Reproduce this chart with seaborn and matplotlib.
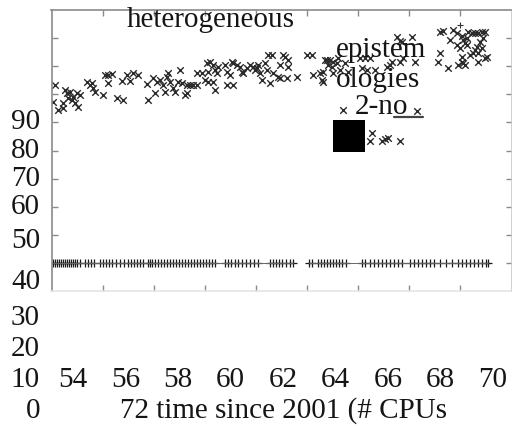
import numpy as np
import pandas as pd
import matplotlib
matplotlib.use("Agg")
import matplotlib.pyplot as plt
import seaborn as sns

# ---------------- data ----------------
cross_x = [
    52.07, 52.27, 52.46, 52.53, 52.59, 52.66, 52.72, 52.79, 52.85, 52.92, 52.99, 53.05, 53.12, 52.46, 52.14,
    53.38, 53.51, 53.57, 53.64, 53.70, 54.03, 54.09, 54.22, 54.36, 54.22, 54.75, 54.94, 55.07, 55.20, 55.40,
    54.55, 54.81, 55.79, 55.73, 55.98, 56.12, 56.25, 56.38, 56.51, 56.57, 56.64, 56.44, 56.05, 56.77, 56.83,
    57.03, 56.96, 57.10, 57.29, 57.42, 57.55, 57.68, 57.22, 57.29, 57.68,
    57.88, 58.07, 58.14, 58.20, 58.33, 58.40, 58.47, 58.53, 58.79, 58.86, 58.99, 59.05, 59.12, 59.25, 59.38,
    59.44, 59.51, 59.64, 59.77, 59.90, 59.96, 60.03, 60.09, 60.16, 60.23, 60.36, 60.42, 60.49, 60.62, 60.94,
    61.07, 61.14, 61.27, 61.27, 60.88, 60.94, 61.21, 61.60, 58.01, 58.14, 58.33, 58.40, 58.86, 59.12, 60.55,
    61.99, 62.18, 62.25, 62.51, 62.64, 62.70, 62.77, 62.90, 62.83, 62.97, 63.03, 63.16, 63.23, 62.58, 62.64,
    63.03, 63.29, 60.68, 63.60, 63.50,
    65.51, 65.64, 65.71, 66.10, 64.07, 64.27, 64.47, 64.14, 64.34, 64.66, 65.12, 65.25, 65.32, 65.64, 65.77,
    66.23, 67.20, 67.33, 67.73, 67.86, 68.06, 68.12, 68.18, 68.25, 68.31, 68.45, 68.58, 68.70, 68.84, 68.97,
    68.90, 68.77, 68.64, 68.58, 68.84, 68.70, 68.51, 68.97, 69.03, 67.99, 68.06, 68.12, 68.18, 67.92, 67.60,
    67.20, 67.14, 67.53, 68.70, 68.06, 68.38, 68.25, 67.86,
    63.39, 66.29, 64.53, 64.47, 64.92, 65.05, 65.17, 65.64,
]
cross_y = [
    97.4, 94.4, 96.8, 101.5, 100.4, 98.6, 100.9, 98.0, 99.1, 96.8, 100.4, 95.6, 99.8, 95.0, 103.3,
    104.5, 103.3, 103.9, 102.1, 100.9, 99.8, 106.9, 106.9, 107.2, 104.1, 104.8, 106.9, 104.8, 107.5, 106.9,
    98.6, 98.0, 98.0, 103.7, 105.7, 104.5, 105.1, 103.3, 106.3, 107.5, 104.5, 100.9, 100.4, 102.1, 100.9,
    108.6, 104.5, 103.9, 103.3, 103.3, 103.3, 103.3, 99.8, 100.4, 107.5,
    107.5, 111.0, 108.0, 111.6, 110.4, 108.6, 107.5, 109.8, 110.4, 108.0, 106.9, 111.6, 111.0, 110.4, 109.8,
    108.0, 107.5, 109.3, 110.4, 109.8, 108.6, 109.3, 110.4, 107.5, 105.1, 111.0, 108.6, 114.0, 114.0, 110.4,
    114.0, 113.4, 112.2, 109.8, 106.3, 105.7, 105.7, 106.0, 105.1, 104.5, 104.5, 101.5, 103.3, 103.3, 103.9,
    114.0, 114.0, 106.9, 107.5, 108.0, 112.2, 112.2, 112.2, 110.4, 109.8, 111.6, 111.0, 112.8, 105.1, 104.5,
    107.5, 108.6, 107.5, 108.0, 111.0,
    120.5, 119.0, 118.7, 120.5, 112.8, 112.8, 112.8, 109.3, 108.6, 108.6, 109.8, 110.4, 111.6, 111.6, 112.8,
    111.6, 122.3, 122.5, 122.9, 121.7, 120.9, 119.3, 118.1, 117.5, 122.3, 121.7, 121.7, 121.7, 122.1, 122.3,
    119.9, 118.7, 116.9, 115.8, 116.4, 114.6, 114.6, 112.8, 113.4, 116.4, 113.4, 111.0, 110.4, 110.4, 119.3,
    114.6, 111.6, 109.3, 111.6, 111.6, 114.0, 119.9, 117.5,
    94.4, 94.1, 86.1, 83.4, 83.4, 84.1, 84.4, 83.4,
]

top_plus_x = [67.99]
top_plus_y = [124.7]

line_x = [
    52.06, 52.14, 52.22, 52.29, 52.37, 52.45, 52.53, 52.61, 52.68, 52.76, 52.84, 52.92, 53.00, 53.12,
    53.31, 53.43, 53.55, 53.66,
    53.90, 54.02, 54.13, 54.25, 54.37, 54.52, 54.68, 54.84, 54.99, 55.11, 55.23, 55.35, 55.46, 55.58,
    55.78, 55.86, 55.93, 56.05, 56.17, 56.29, 56.40, 56.52, 56.64, 56.76, 56.87, 56.99, 57.11, 57.23,
    57.34, 57.46, 57.58, 57.69, 57.81, 57.93, 58.05, 58.16, 58.28, 58.40,
    58.79, 58.91, 59.03, 59.18, 59.30, 59.46, 59.61, 59.77, 59.93, 60.08,
    60.55, 60.67, 60.79, 60.90, 61.02, 61.18, 61.33, 61.45,
    62.08, 62.20, 62.43, 62.55, 62.67, 62.78, 62.90, 63.02, 63.14, 63.25, 63.37, 63.53,
    64.15, 64.27, 64.47, 64.62, 64.78, 64.94, 65.09, 65.25, 65.41, 65.56, 65.72,
    66.03, 66.19, 66.34, 66.50, 66.66, 66.81, 66.97,
    67.21, 67.44, 67.68, 67.91, 68.07, 68.23, 68.38, 68.54, 68.70, 68.85, 69.01, 69.09,
]
line_level = 40.0
line_break = 61.8          # the line is interrupted here

blob_x = [63.66]            # big black square
blob_y = [85.3]
underline_x = [65.40, 66.53]
underline_y = [91.9, 91.9]

xtick_vals = [54, 56, 58, 60, 62, 64, 66, 68]
ytick_vals = [40, 50, 60, 70, 80, 90, 100, 110, 120]
ytick_labels = ["90", "80", "70", "60", "50", "40", "30", "20", "10", "0"]
xtick_labels = ["54", "56", "58", "60", "62", "64", "66", "68", "70"]
xlabel_text = "72 time since 2001 (# CPUs"
notes = ["heterogeneous", "epistem", "ologies", "2-no"]

# ---------------- layout ----------------
W, H = 512, 426
sns.set_theme(style="ticks")
plt.rcParams["font.family"] = ["Liberation Serif", "DejaVu Serif"]

fig = plt.figure(figsize=(W / 100, H / 100), dpi=100)
fig.patch.set_facecolor("white")
ax_l, ax_r, ax_t, ax_b = 51.5, 511.5, 10.0, 291.0
ax = fig.add_axes([ax_l / W, 1 - ax_b / H, (ax_r - ax_l) / W, (ax_b - ax_t) / H])
ax.set_facecolor("white")

line_df = pd.DataFrame({"x": line_x, "y": line_level})
line_df["seg"] = (line_df["x"] > line_break).astype(int)
sns.lineplot(data=line_df, x="x", y="y", units="seg", estimator=None, color="#666666",
             linewidth=0.7, legend=False, ax=ax)
sns.scatterplot(data=line_df, x="x", y="y", marker="+", s=26, color="#1a1a1a",
                linewidth=0.9, legend=False, ax=ax)

sns.scatterplot(x=cross_x, y=cross_y, marker="x", s=22, color="#2a2a2a",
                linewidth=1.0, legend=False, ax=ax)
sns.scatterplot(x=top_plus_x, y=top_plus_y, marker="+", s=24, color="#333333",
                linewidth=0.8, legend=False, ax=ax)
sns.scatterplot(x=blob_x, y=blob_y, marker="s", s=500, color="black",
                linewidth=0, legend=False, ax=ax)
sns.lineplot(x=underline_x, y=underline_y, color="#444444", linewidth=1.6, ax=ax)

ax.set_xlim(52, 70)
ax.set_ylim(30, 130)
ax.set_xticks(xtick_vals)
ax.set_yticks(ytick_vals)
ax.tick_params(direction="in", length=4, width=1, colors="#8a8a8a", top=True, right=True,
               labelleft=False, labelbottom=False)
ax.set_xlabel("")
ax.set_ylabel("")
for side, col in [("left", "#8a8a8a"), ("top", "#8a8a8a"), ("right", "#c8c8c8"), ("bottom", "#e4e4e4")]:
    ax.spines[side].set_visible(True)
    ax.spines[side].set_color(col)
    ax.spines[side].set_linewidth(1.2)

fs = 21
tc = "#151515"

def ftext(px, py, s, ha="center", **kw):
    fig.text(px / W, 1 - py / H, s, ha=ha, va="center", fontsize=fs, color=tc, **kw)

ylab_pos = [122, 151, 179, 207, 241, 282, 318, 349, 380, 411]
for s, py in zip(ytick_labels, ylab_pos):
    ftext(40, py, s, ha="right")

xlab_pos = [73, 125.5, 178, 230.5, 283, 335.5, 388, 440.5, 493]
for s, px in zip(xtick_labels, xlab_pos):
    ftext(px, 380, s)

ftext(120, 411, xlabel_text, ha="left")

ftext(127, 20, notes[0], ha="left")
ftext(336, 50, notes[1], ha="left")
ftext(336, 80, notes[2], ha="left")
ftext(355, 107, notes[3], ha="left")

fig.savefig("out.png", dpi=100, facecolor="white")
